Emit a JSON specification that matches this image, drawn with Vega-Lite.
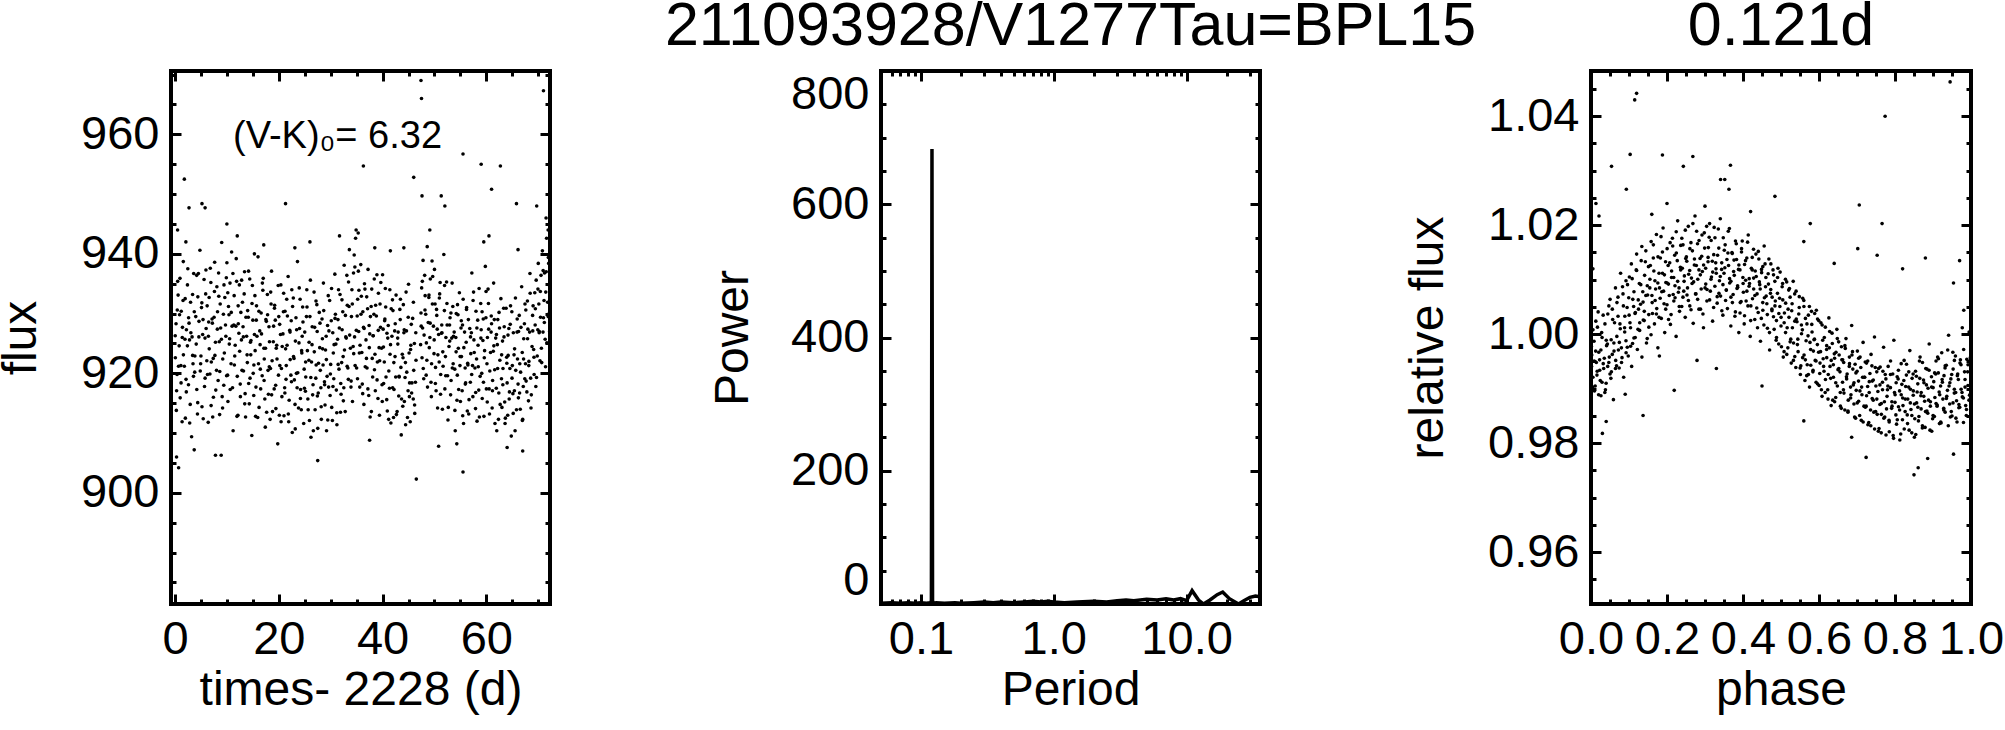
{
"$schema": "https://vega.github.io/schema/vega-lite/v6.json",
"background": "white",
"padding": {"left": -5, "top": -7, "right": 0, "bottom": 0},
"bounds": "flush",
"spacing": 331,
"config": {
  "font": "Liberation Sans",
  "view": {"stroke": "black", "strokeWidth": 4},
  "axis": {"domain": false, "grid": false, "tickColor": "black", "tickWidth": 3, "labelColor": "black", "labelFont": "Liberation Sans", "titleFont": "Liberation Sans", "titleFontSize": 48, "titleFontWeight": "normal", "titleColor": "black", "labelOverlap": false, "labelBound": false},
  "axisX": {"labelFlush": false},
  "title": {"font": "Liberation Sans", "fontSize": 61, "fontWeight": "normal", "color": "black"}
},
"datasets": {
"lc": [
{"t":0.2,"f":928.3},{"t":0.4,"f":919.8},{"t":0.6,"f":933.1},{"t":0.8,"f":924.6},{"t":1.0,"f":915.9},{"t":1.2,"f":930.4},{"t":1.4,"f":926.0},{"t":1.6,"f":938.7},{"t":1.8,"f":921.2},{"t":2.0,"f":912.5},{"t":2.2,"f":927.3},{"t":2.4,"f":934.8},{"t":2.6,"f":918.1},{"t":2.8,"f":925.6},{"t":3.0,"f":931.9},{"t":3.2,"f":909.4},{"t":3.4,"f":923.0},{"t":3.6,"f":936.7},{"t":3.8,"f":920.2},{"t":4.0,"f":929.5},
{"t":4.2,"f":917.3},{"t":4.4,"f":932.8},{"t":4.6,"f":926.1},{"t":4.8,"f":940.6},{"t":5.0,"f":922.9},{"t":5.2,"f":914.4},{"t":5.4,"f":929.0},{"t":5.6,"f":935.7},{"t":5.8,"f":919.2},{"t":6.0,"f":927.5},{"t":6.2,"f":931.3},{"t":6.4,"f":911.8},{"t":6.6,"f":924.1},{"t":6.8,"f":937.6},{"t":7.0,"f":921.9},{"t":7.2,"f":928.4},{"t":7.4,"f":916.0},{"t":7.6,"f":933.7},{"t":7.8,"f":925.2},{"t":8.0,"f":920.5},
{"t":8.2,"f":930.3},{"t":8.4,"f":936.8},{"t":8.6,"f":913.1},{"t":8.8,"f":927.6},{"t":9.0,"f":941.9},{"t":9.2,"f":922.4},{"t":9.4,"f":918.0},{"t":9.6,"f":932.7},{"t":9.8,"f":926.2},{"t":10.0,"f":938.5},{"t":10.2,"f":915.3},{"t":10.4,"f":929.8},{"t":10.6,"f":935.1},{"t":10.8,"f":921.6},{"t":11.0,"f":927.9},{"t":11.2,"f":910.4},{"t":11.4,"f":933.0},{"t":11.6,"f":924.7},{"t":11.8,"f":939.2},{"t":12.0,"f":919.5},
{"t":12.2,"f":928.3},{"t":12.4,"f":934.8},{"t":12.6,"f":916.1},{"t":12.8,"f":925.6},{"t":13.0,"f":931.9},{"t":13.2,"f":920.4},{"t":13.4,"f":937.0},{"t":13.6,"f":912.7},{"t":13.8,"f":926.2},{"t":14.0,"f":930.5},{"t":14.2,"f":918.3},{"t":14.4,"f":935.8},{"t":14.6,"f":923.1},{"t":14.8,"f":909.6},{"t":15.0,"f":928.9},{"t":15.2,"f":921.4},{"t":15.4,"f":933.0},{"t":15.6,"f":917.7},{"t":15.8,"f":926.2},{"t":16.0,"f":939.5},
{"t":16.2,"f":914.3},{"t":16.4,"f":924.8},{"t":16.6,"f":930.1},{"t":16.8,"f":919.6},{"t":17.0,"f":935.9},{"t":17.2,"f":922.4},{"t":17.4,"f":911.0},{"t":17.6,"f":928.7},{"t":17.8,"f":933.2},{"t":18.0,"f":916.5},{"t":18.2,"f":925.3},{"t":18.4,"f":920.8},{"t":18.6,"f":937.1},{"t":18.8,"f":913.6},{"t":19.0,"f":927.9},{"t":19.2,"f":931.4},{"t":19.4,"f":918.0},{"t":19.6,"f":924.7},{"t":19.8,"f":908.2},{"t":20.0,"f":929.5},
{"t":20.2,"f":921.3},{"t":20.4,"f":934.8},{"t":20.6,"f":916.1},{"t":20.8,"f":926.6},{"t":21.0,"f":912.9},{"t":21.2,"f":930.4},{"t":21.4,"f":919.0},{"t":21.6,"f":924.7},{"t":21.8,"f":936.2},{"t":22.0,"f":915.5},{"t":22.2,"f":922.3},{"t":22.4,"f":928.8},{"t":22.6,"f":910.1},{"t":22.8,"f":932.6},{"t":23.0,"f":918.9},{"t":23.2,"f":925.4},{"t":23.4,"f":920.0},{"t":23.6,"f":938.7},{"t":23.8,"f":914.2},{"t":24.0,"f":927.5},
{"t":24.2,"f":917.3},{"t":24.4,"f":923.8},{"t":24.6,"f":931.1},{"t":24.8,"f":911.6},{"t":25.0,"f":926.9},{"t":25.2,"f":919.4},{"t":25.4,"f":934.0},{"t":25.6,"f":915.7},{"t":25.8,"f":922.2},{"t":26.0,"f":929.5},{"t":26.2,"f":909.3},{"t":26.4,"f":924.8},{"t":26.6,"f":918.1},{"t":26.8,"f":933.6},{"t":27.0,"f":913.9},{"t":27.2,"f":921.4},{"t":27.4,"f":927.0},{"t":27.6,"f":916.7},{"t":27.8,"f":930.2},{"t":28.0,"f":920.5},
{"t":28.2,"f":912.3},{"t":28.4,"f":925.8},{"t":28.6,"f":935.1},{"t":28.8,"f":918.6},{"t":29.0,"f":923.9},{"t":29.2,"f":910.4},{"t":29.4,"f":928.0},{"t":29.6,"f":917.7},{"t":29.8,"f":932.2},{"t":30.0,"f":921.5},{"t":30.2,"f":914.3},{"t":30.4,"f":926.8},{"t":30.6,"f":919.1},{"t":30.8,"f":936.6},{"t":31.0,"f":924.9},{"t":31.2,"f":911.4},{"t":31.4,"f":929.0},{"t":31.6,"f":920.7},{"t":31.8,"f":933.2},{"t":32.0,"f":916.5},
{"t":32.2,"f":927.3},{"t":32.4,"f":922.8},{"t":32.6,"f":938.1},{"t":32.8,"f":913.6},{"t":33.0,"f":925.9},{"t":33.2,"f":931.4},{"t":33.4,"f":919.0},{"t":33.6,"f":940.7},{"t":33.8,"f":924.2},{"t":34.0,"f":929.5},{"t":34.2,"f":915.3},{"t":34.4,"f":936.8},{"t":34.6,"f":926.1},{"t":34.8,"f":942.6},{"t":35.0,"f":920.9},{"t":35.2,"f":932.4},{"t":35.4,"f":927.0},{"t":35.6,"f":917.7},{"t":35.8,"f":938.2},{"t":36.0,"f":923.5},
{"t":36.2,"f":930.3},{"t":36.4,"f":914.8},{"t":36.6,"f":934.1},{"t":36.8,"f":925.6},{"t":37.0,"f":920.9},{"t":37.2,"f":937.4},{"t":37.4,"f":928.0},{"t":37.6,"f":912.7},{"t":37.8,"f":931.2},{"t":38.0,"f":922.5},{"t":38.2,"f":926.3},{"t":38.4,"f":935.8},{"t":38.6,"f":917.1},{"t":38.8,"f":929.6},{"t":39.0,"f":921.9},{"t":39.2,"f":933.4},{"t":39.4,"f":913.0},{"t":39.6,"f":927.7},{"t":39.8,"f":924.2},{"t":40.0,"f":936.5},
{"t":40.2,"f":918.3},{"t":40.4,"f":928.8},{"t":40.6,"f":931.1},{"t":40.8,"f":915.6},{"t":41.0,"f":925.9},{"t":41.2,"f":920.4},{"t":41.4,"f":934.0},{"t":41.6,"f":911.7},{"t":41.8,"f":926.2},{"t":42.0,"f":930.5},{"t":42.2,"f":917.3},{"t":42.4,"f":922.8},{"t":42.6,"f":933.1},{"t":42.8,"f":913.6},{"t":43.0,"f":926.9},{"t":43.2,"f":919.4},{"t":43.4,"f":929.0},{"t":43.6,"f":909.7},{"t":43.8,"f":923.2},{"t":44.0,"f":931.5},
{"t":44.2,"f":915.3},{"t":44.4,"f":921.8},{"t":44.6,"f":927.1},{"t":44.8,"f":912.6},{"t":45.0,"f":934.9},{"t":45.2,"f":918.4},{"t":45.4,"f":924.0},{"t":45.6,"f":916.7},{"t":45.8,"f":929.2},{"t":46.0,"f":920.5},{"t":46.2,"f":913.3},{"t":46.4,"f":926.8},
{"t":47.4,"f":930.1},{"t":47.6,"f":922.6},{"t":47.8,"f":938.9},{"t":48.0,"f":926.4},{"t":48.2,"f":933.0},{"t":48.4,"f":919.7},{"t":48.6,"f":941.2},{"t":48.8,"f":928.5},{"t":49.0,"f":924.3},{"t":49.2,"f":935.8},{"t":49.4,"f":916.1},{"t":49.6,"f":931.6},{"t":49.8,"f":927.9},{"t":50.0,"f":937.4},{"t":50.2,"f":921.0},{"t":50.4,"f":930.7},{"t":50.6,"f":914.2},{"t":50.8,"f":926.5},{"t":51.0,"f":933.3},{"t":51.2,"f":919.8},
{"t":51.4,"f":928.1},{"t":51.6,"f":923.6},{"t":51.8,"f":939.9},{"t":52.0,"f":917.4},{"t":52.2,"f":926.0},{"t":52.4,"f":931.7},{"t":52.6,"f":912.2},{"t":52.8,"f":924.5},{"t":53.0,"f":929.3},{"t":53.2,"f":918.8},{"t":53.4,"f":935.1},{"t":53.6,"f":921.6},{"t":53.8,"f":926.9},{"t":54.0,"f":910.4},{"t":54.2,"f":930.0},{"t":54.4,"f":919.7},{"t":54.6,"f":924.2},{"t":54.8,"f":933.5},{"t":55.0,"f":915.3},{"t":55.2,"f":922.8},
{"t":55.4,"f":928.1},{"t":55.6,"f":911.6},{"t":55.8,"f":926.9},{"t":56.0,"f":918.4},{"t":56.2,"f":931.0},{"t":56.4,"f":921.7},{"t":56.6,"f":913.2},{"t":56.8,"f":927.5},{"t":57.0,"f":923.3},{"t":57.2,"f":936.8},{"t":57.4,"f":916.1},{"t":57.6,"f":925.6},{"t":57.8,"f":920.9},{"t":58.0,"f":930.4},{"t":58.2,"f":912.0},{"t":58.4,"f":924.7},{"t":58.6,"f":934.2},{"t":58.8,"f":919.5},{"t":59.0,"f":927.3},{"t":59.2,"f":915.8},
{"t":59.4,"f":929.1},{"t":59.6,"f":922.6},{"t":59.8,"f":937.9},{"t":60.0,"f":917.4},{"t":60.2,"f":926.0},{"t":60.4,"f":931.7},{"t":60.6,"f":913.2},{"t":60.8,"f":923.5},{"t":61.0,"f":928.3},{"t":61.2,"f":918.8},{"t":61.4,"f":935.1},{"t":61.6,"f":920.6},{"t":61.8,"f":925.9},{"t":62.0,"f":910.4},{"t":62.2,"f":929.0},{"t":62.4,"f":916.7},{"t":62.6,"f":922.2},{"t":62.8,"f":932.5},{"t":63.0,"f":914.3},{"t":63.2,"f":920.8},
{"t":63.4,"f":926.1},{"t":63.6,"f":911.6},{"t":63.8,"f":930.9},{"t":64.0,"f":918.4},{"t":64.2,"f":923.0},{"t":64.4,"f":915.7},{"t":64.6,"f":928.2},{"t":64.8,"f":909.5},{"t":65.0,"f":921.3},{"t":65.2,"f":926.8},{"t":65.4,"f":917.1},{"t":65.6,"f":932.6},{"t":65.8,"f":913.9},{"t":66.0,"f":922.4},{"t":66.2,"f":927.0},{"t":66.4,"f":916.7},{"t":66.6,"f":920.2},{"t":66.8,"f":934.5},{"t":67.0,"f":912.3},{"t":67.2,"f":925.8},
{"t":67.4,"f":919.1},{"t":67.6,"f":930.6},{"t":67.8,"f":916.9},{"t":68.0,"f":927.4},{"t":68.2,"f":922.0},{"t":68.4,"f":936.7},{"t":68.6,"f":914.2},{"t":68.8,"f":924.5},{"t":69.0,"f":931.3},{"t":69.2,"f":919.8},{"t":69.4,"f":928.1},{"t":69.6,"f":935.6},{"t":69.8,"f":922.9},{"t":70.0,"f":938.4},{"t":70.2,"f":927.0},{"t":70.4,"f":933.7},{"t":70.6,"f":924.2},{"t":70.8,"f":940.5},{"t":71.0,"f":929.3},{"t":71.2,"f":936.8},
{"t":71.4,"f":921.1},{"t":71.6,"f":942.6},{"t":71.8,"f":931.9},{"t":72.0,"f":938.4},{"t":72.2,"f":927.0},
{"t":1.8,"f":952.5},{"t":2.7,"f":947.7},{"t":5.8,"f":947.7},{"t":5.2,"f":948.4},{"t":21.3,"f":948.4},{"t":36.3,"f":954.7},{"t":47.4,"f":969},{"t":47.5,"f":966},{"t":71,"f":967.3},{"t":55.5,"f":956.7},{"t":59,"f":955},{"t":62.7,"f":954.7},{"t":61,"f":950.8},{"t":46,"f":952.8},{"t":47.6,"f":949.7},{"t":51.3,"f":949.7},{"t":52,"f":948},{"t":65.8,"f":948.4},{"t":69.7,"f":948},
{"t":0.7,"f":904.2},{"t":0.3,"f":906},{"t":7.8,"f":906.3},{"t":8.9,"f":906.3},{"t":3.7,"f":907.2},{"t":27.5,"f":905.4},{"t":46.5,"f":902.3},{"t":55.5,"f":903.5},{"t":37.5,"f":908.8},{"t":50.8,"f":907.8},{"t":54.3,"f":908.2},{"t":64,"f":907.6},{"t":67,"f":907},
{"t":10,"f":945},{"t":12,"f":943},{"t":34.9,"f":944},{"t":35.3,"f":943.5},{"t":26,"f":942},{"t":0.5,"f":944},{"t":71.5,"f":946},{"t":71.9,"f":944},{"t":49.1,"f":944},{"t":31.7,"f":943},{"t":41.5,"f":940.5},{"t":38.5,"f":941},{"t":60.5,"f":943},{"t":2.1,"f":942},{"t":15.3,"f":940},{"t":23.1,"f":941},{"t":17.1,"f":941.5},{"t":44.1,"f":941},{"t":66.1,"f":940.7},{"t":59.5,"f":942},
{"t":0.07,"f":922.6},{"t":0.31,"f":917.1},{"t":0.52,"f":935.4},{"t":0.88,"f":929.8},{"t":1.13,"f":921.3},{"t":1.37,"f":911.9},{"t":1.55,"f":932.2},{"t":1.92,"f":925.7},{"t":2.13,"f":919.0},{"t":2.47,"f":937.5},{"t":2.71,"f":928.4},{"t":2.93,"f":914.8},{"t":3.29,"f":926.1},{"t":3.47,"f":921.6},{"t":3.72,"f":930.3},{"t":4.09,"f":924.9},{"t":4.33,"f":913.2},{"t":4.51,"f":936.7},{"t":4.87,"f":920.4},{"t":5.11,"f":931.0},
{"t":5.33,"f":926.5},{"t":5.69,"f":917.8},{"t":5.91,"f":933.3},{"t":6.13,"f":922.1},{"t":6.49,"f":928.6},{"t":6.73,"f":919.9},{"t":6.91,"f":935.2},{"t":7.27,"f":912.7},{"t":7.53,"f":929.4},{"t":7.69,"f":923.0},{"t":8.07,"f":934.5},{"t":8.31,"f":918.8},{"t":8.53,"f":925.3},{"t":8.71,"f":931.6},{"t":9.09,"f":916.1},{"t":9.33,"f":929.9},{"t":9.51,"f":923.4},{"t":9.89,"f":936.0},{"t":10.13,"f":919.7},{"t":10.31,"f":931.2},
{"t":10.53,"f":925.8},{"t":10.91,"f":940.3},{"t":11.09,"f":917.6},{"t":11.33,"f":928.1},{"t":11.51,"f":922.9},{"t":11.87,"f":935.4},{"t":12.13,"f":913.0},{"t":12.31,"f":926.7},{"t":12.69,"f":930.2},{"t":12.91,"f":920.5},{"t":13.11,"f":927.8},{"t":13.33,"f":933.3},{"t":13.51,"f":916.6},{"t":13.89,"f":923.1},{"t":14.13,"f":929.4},{"t":14.31,"f":914.9},{"t":14.53,"f":925.2},{"t":14.91,"f":934.7},{"t":15.07,"f":920.0},{"t":15.31,"f":926.5},
{"t":15.53,"f":912.8},{"t":15.71,"f":931.3},{"t":16.09,"f":921.6},{"t":16.33,"f":927.1},{"t":16.51,"f":917.4},{"t":16.93,"f":933.9},{"t":17.13,"f":924.2},{"t":17.31,"f":915.7},{"t":17.51,"f":929.0},{"t":17.93,"f":920.5},{"t":18.11,"f":927.8},{"t":18.33,"f":912.3},{"t":18.51,"f":931.6},{"t":18.71,"f":922.1},{"t":19.11,"f":917.4},{"t":19.33,"f":928.9},{"t":19.51,"f":924.2},{"t":19.89,"f":934.7},{"t":20.11,"f":913.0},{"t":20.33,"f":926.5},
{"t":20.51,"f":920.8},{"t":20.89,"f":930.3},{"t":21.13,"f":917.6},{"t":21.31,"f":924.1},{"t":21.53,"f":932.4},{"t":21.91,"f":911.9},{"t":22.11,"f":927.2},{"t":22.33,"f":919.7},{"t":22.51,"f":934.0},{"t":22.93,"f":922.5},{"t":23.13,"f":914.8},{"t":23.31,"f":929.3},{"t":23.53,"f":917.6},{"t":23.89,"f":925.1},{"t":24.11,"f":932.4},{"t":24.33,"f":913.9},{"t":24.51,"f":926.2},{"t":24.89,"f":920.7},{"t":25.13,"f":917.0},{"t":25.33,"f":929.5},
{"t":25.51,"f":923.8},{"t":25.91,"f":912.1},{"t":26.09,"f":935.6},{"t":26.31,"f":921.9},{"t":26.53,"f":916.4},{"t":26.91,"f":927.7},{"t":27.13,"f":919.2},{"t":27.33,"f":931.5},{"t":27.51,"f":910.8},{"t":27.89,"f":924.3},{"t":28.11,"f":917.6},{"t":28.33,"f":929.1},{"t":28.53,"f":921.4},{"t":28.91,"f":914.7},{"t":29.13,"f":926.2},{"t":29.31,"f":919.5},{"t":29.53,"f":933.0},{"t":29.89,"f":916.3},{"t":30.11,"f":928.8},{"t":30.33,"f":912.1},
{"t":30.51,"f":923.4},{"t":30.91,"f":929.9},{"t":31.09,"f":917.2},{"t":31.33,"f":925.7},{"t":31.51,"f":934.0},{"t":31.89,"f":913.5},{"t":32.11,"f":921.8},{"t":32.33,"f":930.3},{"t":32.53,"f":917.6},{"t":32.91,"f":926.1},{"t":33.11,"f":936.4},{"t":33.31,"f":920.9},{"t":33.53,"f":931.2},{"t":33.91,"f":917.7},{"t":34.09,"f":934.0},{"t":34.33,"f":924.5},{"t":34.53,"f":939.8},{"t":34.71,"f":921.3},{"t":35.11,"f":929.6},{"t":35.33,"f":937.1},
{"t":35.53,"f":923.4},{"t":35.91,"f":932.9},{"t":36.09,"f":918.2},{"t":36.33,"f":927.7},{"t":36.51,"f":935.0},{"t":36.89,"f":922.5},{"t":37.11,"f":930.8},{"t":37.33,"f":916.3},{"t":37.53,"f":926.6},{"t":37.91,"f":934.1},{"t":38.09,"f":919.4},{"t":38.33,"f":929.9},{"t":38.53,"f":923.2},{"t":38.91,"f":936.5},{"t":39.11,"f":915.8},{"t":39.33,"f":924.3},{"t":39.51,"f":931.6},{"t":39.89,"f":918.1},{"t":40.11,"f":927.4},{"t":40.33,"f":921.9},
{"t":40.53,"f":934.2},{"t":40.91,"f":913.7},{"t":41.09,"f":928.0},{"t":41.33,"f":917.5},{"t":41.53,"f":924.8},{"t":41.91,"f":932.3},{"t":42.11,"f":912.6},{"t":42.33,"f":927.1},{"t":42.53,"f":919.4},{"t":42.91,"f":925.9},{"t":43.11,"f":916.2},{"t":43.33,"f":930.7},{"t":43.53,"f":921.0},{"t":43.89,"f":914.5},{"t":44.11,"f":926.8},{"t":44.33,"f":919.3},{"t":44.53,"f":933.6},{"t":44.91,"f":917.1},{"t":45.11,"f":923.4},{"t":45.33,"f":911.9},
{"t":45.53,"f":928.2},{"t":45.91,"f":915.7},{"t":46.13,"f":925.0},{"t":46.33,"f":918.5},{"t":47.33,"f":924.8},{"t":47.53,"f":934.3},{"t":47.71,"f":927.6},{"t":47.93,"f":919.1},{"t":48.11,"f":936.4},{"t":48.31,"f":929.9},{"t":48.53,"f":922.2},{"t":48.91,"f":932.7},{"t":49.11,"f":926.0},{"t":49.33,"f":918.5},{"t":49.53,"f":938.8},{"t":49.91,"f":923.3},{"t":50.11,"f":931.6},{"t":50.31,"f":917.1},{"t":50.53,"f":927.4},{"t":50.91,"f":921.9},
{"t":51.09,"f":935.2},{"t":51.33,"f":926.7},{"t":51.53,"f":914.0},{"t":51.91,"f":930.5},{"t":52.11,"f":922.8},{"t":52.33,"f":935.3},{"t":52.53,"f":919.6},{"t":52.91,"f":928.1},{"t":53.11,"f":916.4},{"t":53.33,"f":925.9},{"t":53.53,"f":931.2},{"t":53.91,"f":920.7},{"t":54.11,"f":926.0},{"t":54.33,"f":915.5},{"t":54.53,"f":929.8},{"t":54.91,"f":921.3},{"t":55.11,"f":927.6},{"t":55.33,"f":917.1},{"t":55.53,"f":932.4},{"t":55.91,"f":920.9},
{"t":56.11,"f":925.2},{"t":56.33,"f":913.7},{"t":56.53,"f":929.0},{"t":56.91,"f":918.5},{"t":57.11,"f":926.8},{"t":57.33,"f":921.3},{"t":57.53,"f":933.6},{"t":57.91,"f":914.1},{"t":58.11,"f":922.4},{"t":58.33,"f":928.9},{"t":58.53,"f":917.2},{"t":58.91,"f":931.7},{"t":59.11,"f":920.0},{"t":59.33,"f":925.5},{"t":59.53,"f":912.8},{"t":59.91,"f":929.3},{"t":60.11,"f":921.6},{"t":60.33,"f":934.1},{"t":60.53,"f":917.4},{"t":60.91,"f":926.9},
{"t":61.11,"f":914.2},{"t":61.33,"f":923.7},{"t":61.53,"f":929.0},{"t":61.91,"f":917.5},{"t":62.11,"f":924.8},{"t":62.33,"f":912.3},{"t":62.53,"f":927.6},{"t":62.91,"f":919.1},{"t":63.11,"f":925.4},{"t":63.33,"f":930.9},{"t":63.53,"f":915.2},{"t":63.91,"f":922.7},{"t":64.11,"f":913.0},{"t":64.33,"f":927.5},{"t":64.53,"f":920.8},{"t":64.91,"f":930.3},{"t":65.11,"f":916.6},{"t":65.33,"f":923.1},{"t":65.53,"f":910.4},{"t":65.91,"f":926.9},
{"t":66.11,"f":918.2},{"t":66.33,"f":929.7},{"t":66.53,"f":914.0},{"t":66.91,"f":923.5},{"t":67.11,"f":917.8},{"t":67.33,"f":928.3},{"t":67.53,"f":921.6},{"t":67.91,"f":932.1},{"t":68.11,"f":915.4},{"t":68.33,"f":926.9},{"t":68.53,"f":919.2},{"t":68.91,"f":929.7},{"t":69.11,"f":924.0},{"t":69.33,"f":933.5},{"t":69.53,"f":917.8},{"t":69.91,"f":927.3},{"t":70.11,"f":931.6},{"t":70.33,"f":922.1},{"t":70.53,"f":936.4},{"t":70.91,"f":926.9},
{"t":71.11,"f":932.2},{"t":71.33,"f":925.7},{"t":71.53,"f":937.0},{"t":71.91,"f":929.5},{"t":72.11,"f":934.8},
{"t":0.04,"f":926.3},{"t":0.26,"f":913.8},{"t":0.44,"f":930.6},{"t":0.68,"f":921.2},{"t":0.96,"f":935.9},{"t":1.17,"f":918.4},{"t":1.44,"f":927.7},{"t":1.62,"f":923.1},{"t":1.96,"f":932.5},{"t":2.18,"f":916.9},{"t":2.39,"f":924.6},{"t":2.62,"f":929.3},{"t":2.83,"f":911.7},{"t":3.06,"f":926.8},{"t":3.39,"f":933.2},{"t":3.56,"f":919.5},{"t":3.83,"f":922.9},{"t":4.17,"f":936.4},{"t":4.38,"f":915.1},{"t":4.62,"f":928.7},
{"t":4.94,"f":921.6},{"t":5.17,"f":931.8},{"t":5.44,"f":912.4},{"t":5.78,"f":925.9},{"t":5.96,"f":937.3},{"t":6.26,"f":919.8},{"t":6.44,"f":926.2},{"t":6.58,"f":932.7},{"t":6.96,"f":914.6},{"t":7.14,"f":929.1},{"t":7.37,"f":922.5},{"t":7.64,"f":938.6},{"t":7.86,"f":917.2},{"t":8.16,"f":927.4},{"t":8.44,"f":932.9},{"t":8.63,"f":920.3},{"t":8.94,"f":925.7},{"t":9.17,"f":914.2},{"t":9.44,"f":934.8},{"t":9.73,"f":928.1},
{"t":9.94,"f":919.6},{"t":10.17,"f":933.5},{"t":10.46,"f":924.9},{"t":10.64,"f":917.3},{"t":10.84,"f":930.2},{"t":11.16,"f":936.7},{"t":11.44,"f":921.4},{"t":11.73,"f":927.9},{"t":11.94,"f":912.8},{"t":12.17,"f":931.3},{"t":12.46,"f":923.7},{"t":12.57,"f":918.2},{"t":12.84,"f":935.6},{"t":13.17,"f":926.1},{"t":13.44,"f":914.9},{"t":13.67,"f":929.4},{"t":13.94,"f":921.8},{"t":14.17,"f":937.1},{"t":14.46,"f":919.2},{"t":14.64,"f":925.5},
{"t":14.84,"f":931.7},{"t":15.17,"f":916.3},{"t":15.44,"f":923.8},{"t":15.66,"f":928.9},{"t":15.94,"f":912.6},{"t":16.17,"f":930.4},{"t":16.44,"f":920.7},{"t":16.67,"f":926.6},{"t":16.84,"f":935.1},{"t":17.17,"f":918.8},{"t":17.44,"f":924.2},{"t":17.66,"f":913.5},{"t":17.84,"f":929.8},{"t":18.17,"f":921.1},{"t":18.44,"f":933.6},{"t":18.62,"f":916.4},{"t":18.94,"f":925.3},{"t":19.17,"f":930.9},{"t":19.44,"f":914.1},{"t":19.66,"f":922.4},
{"t":19.94,"f":919.7},{"t":20.17,"f":928.2},{"t":20.44,"f":911.9},{"t":20.66,"f":924.5},{"t":20.94,"f":933.4},{"t":21.17,"f":916.7},{"t":21.44,"f":921.3},{"t":21.66,"f":929.6},{"t":21.84,"f":913.2},{"t":22.17,"f":926.9},{"t":22.44,"f":918.6},{"t":22.66,"f":931.2},{"t":22.84,"f":922.8},{"t":23.17,"f":910.7},{"t":23.44,"f":927.3},{"t":23.66,"f":920.1},{"t":23.94,"f":934.3},{"t":24.17,"f":915.8},{"t":24.44,"f":923.4},{"t":24.66,"f":928.6},
{"t":24.94,"f":917.5},{"t":25.17,"f":921.9},{"t":25.44,"f":931.1},{"t":25.66,"f":913.9},{"t":25.84,"f":925.2},{"t":26.17,"f":919.3},{"t":26.44,"f":927.8},{"t":26.66,"f":910.4},{"t":26.84,"f":923.6},{"t":27.17,"f":932.1},{"t":27.44,"f":916.2},{"t":27.66,"f":921.7},{"t":27.94,"f":928.4},{"t":28.17,"f":914.4},{"t":28.44,"f":924.1},{"t":28.66,"f":930.5},{"t":28.84,"f":918.1},{"t":29.17,"f":922.3},{"t":29.44,"f":912.2},{"t":29.66,"f":927.1},
{"t":29.94,"f":919.9},{"t":30.17,"f":934.2},{"t":30.44,"f":917.8},{"t":30.66,"f":924.8},{"t":30.84,"f":929.2},{"t":31.17,"f":913.4},{"t":31.44,"f":921.5},{"t":31.66,"f":927.6},{"t":31.94,"f":918.3},{"t":32.17,"f":932.3},{"t":32.44,"f":915.4},{"t":32.66,"f":923.9},{"t":32.84,"f":929.7},{"t":33.17,"f":921.2},{"t":33.44,"f":935.3},{"t":33.66,"f":926.4},{"t":33.94,"f":918.7},{"t":34.17,"f":931.6},{"t":34.44,"f":923.3},{"t":34.66,"f":937.8},
{"t":34.94,"f":927.2},{"t":35.17,"f":919.1},{"t":35.44,"f":933.9},{"t":35.66,"f":924.7},{"t":35.84,"f":929.9},{"t":36.17,"f":916.6},{"t":36.44,"f":927.5},{"t":36.66,"f":921.1},{"t":36.94,"f":932.8},{"t":37.17,"f":917.4},{"t":37.44,"f":924.3},{"t":37.66,"f":929.5},{"t":37.84,"f":913.6},{"t":38.17,"f":926.3},{"t":38.44,"f":920.6},{"t":38.66,"f":931.4},{"t":38.94,"f":918.9},{"t":39.17,"f":927.2},{"t":39.44,"f":922.1},{"t":39.66,"f":935.2},
{"t":39.94,"f":915.3},{"t":40.17,"f":924.4},{"t":40.44,"f":929.1},{"t":40.66,"f":919.4},{"t":40.84,"f":926.7},{"t":41.17,"f":912.3},{"t":41.44,"f":923.2},{"t":41.66,"f":930.8},{"t":41.94,"f":917.6},{"t":42.17,"f":921.8},{"t":42.44,"f":928.3},{"t":42.66,"f":913.1},{"t":42.94,"f":924.9},{"t":43.17,"f":919.5},{"t":43.44,"f":932.4},{"t":43.66,"f":915.7},{"t":43.94,"f":922.6},{"t":44.17,"f":927.3},{"t":44.44,"f":911.4},{"t":44.66,"f":920.2},
{"t":44.94,"f":929.4},{"t":45.17,"f":916.1},{"t":45.44,"f":924.7},{"t":45.66,"f":918.4},{"t":45.94,"f":931.9},{"t":46.17,"f":914.7},{"t":46.44,"f":922.2},{"t":47.44,"f":927.9},{"t":47.66,"f":935.4},{"t":47.84,"f":920.8},{"t":48.17,"f":930.6},{"t":48.44,"f":925.1},{"t":48.66,"f":917.7},{"t":48.94,"f":933.1},{"t":49.17,"f":928.4},{"t":49.44,"f":921.6},{"t":49.66,"f":936.2},{"t":49.94,"f":925.6},{"t":50.17,"f":918.3},{"t":50.44,"f":929.7},
{"t":50.66,"f":923.1},{"t":50.94,"f":932.6},{"t":51.17,"f":916.5},{"t":51.44,"f":926.8},{"t":51.66,"f":921.2},{"t":51.94,"f":934.7},{"t":52.17,"f":919.6},{"t":52.44,"f":928.1},{"t":52.66,"f":914.3},{"t":52.94,"f":925.4},{"t":53.17,"f":930.1},{"t":53.44,"f":920.9},{"t":53.66,"f":926.2},{"t":53.94,"f":913.8},{"t":54.17,"f":923.6},{"t":54.44,"f":931.5},{"t":54.66,"f":917.3},{"t":54.94,"f":922.8},{"t":55.17,"f":928.8},{"t":55.44,"f":912.9},
{"t":55.66,"f":924.3},{"t":55.94,"f":918.2},{"t":56.17,"f":930.7},{"t":56.44,"f":921.4},{"t":56.66,"f":915.6},{"t":56.94,"f":926.1},{"t":57.17,"f":919.8},{"t":57.44,"f":932.2},{"t":57.66,"f":923.5},{"t":57.94,"f":916.8},{"t":58.17,"f":927.6},{"t":58.44,"f":921.1},{"t":58.66,"f":912.7},{"t":58.94,"f":925.9},{"t":59.17,"f":930.3},{"t":59.44,"f":918.5},{"t":59.66,"f":923.8},{"t":59.94,"f":933.7},{"t":60.17,"f":915.2},{"t":60.44,"f":927.4},
{"t":60.66,"f":920.4},{"t":60.94,"f":929.6},{"t":61.17,"f":917.1},{"t":61.44,"f":924.6},{"t":61.66,"f":911.6},{"t":61.94,"f":926.5},{"t":62.17,"f":920.8},{"t":62.44,"f":930.2},{"t":62.66,"f":914.8},{"t":62.94,"f":923.1},{"t":63.17,"f":918.1},{"t":63.44,"f":927.8},{"t":63.66,"f":912.5},{"t":63.94,"f":921.7},{"t":64.17,"f":926.4},{"t":64.44,"f":916.9},{"t":64.66,"f":931.3},{"t":64.94,"f":919.2},{"t":65.17,"f":913.3},{"t":65.44,"f":924.1},
{"t":65.66,"f":920.5},{"t":65.94,"f":929.1},{"t":66.17,"f":915.9},{"t":66.44,"f":921.6},{"t":66.66,"f":927.7},{"t":66.94,"f":912.1},{"t":67.17,"f":922.4},{"t":67.44,"f":931.6},{"t":67.66,"f":918.7},{"t":67.94,"f":925.8},{"t":68.17,"f":921.3},{"t":68.44,"f":933.4},{"t":68.66,"f":916.4},{"t":68.94,"f":927.1},{"t":69.17,"f":922.7},{"t":69.44,"f":930.8},{"t":69.66,"f":919.3},{"t":69.94,"f":934.1},{"t":70.17,"f":926.8},{"t":70.44,"f":929.4},
{"t":70.66,"f":921.8},{"t":70.94,"f":937.2},{"t":71.17,"f":928.5},{"t":71.44,"f":933.6},{"t":71.66,"f":925.1},{"t":71.94,"f":939.4},{"t":72.17,"f":930.2}
],
"pg": [
{"P":0.05,"w":1},{"P":0.06,"w":2},{"P":0.07,"w":1},{"P":0.08,"w":2},{"P":0.09,"w":1},{"P":0.1,"w":2},{"P":0.11,"w":1},{"P":0.118,"w":2},{"P":0.1198,"w":5},{"P":0.121,"w":683},{"P":0.1222,"w":5},{"P":0.124,"w":1},{"P":0.13,"w":2},{"P":0.15,"w":1},{"P":0.18,"w":2},{"P":0.2,"w":1},{"P":0.25,"w":2},{"P":0.3,"w":3},{"P":0.35,"w":2},{"P":0.4,"w":3},{"P":0.5,"w":2},{"P":0.6,"w":3},{"P":0.7,"w":4},{"P":0.8,"w":3},{"P":0.9,"w":4},{"P":1.0,"w":3},{"P":1.2,"w":2},{"P":1.5,"w":3},{"P":2.0,"w":4},{"P":2.5,"w":3},{"P":3.0,"w":5},{"P":3.5,"w":6},{"P":4.0,"w":5},{"P":5.0,"w":7},{"P":6.0,"w":6},{"P":7.0,"w":8},{"P":8.0,"w":6},{"P":9.0,"w":8},{"P":10,"w":5},{"P":11,"w":20},{"P":12.3,"w":6},{"P":13.4,"w":0},{"P":15,"w":6},{"P":17,"w":14},{"P":18.7,"w":18},{"P":21,"w":8},{"P":24.6,"w":0},{"P":27,"w":5},{"P":30,"w":10},{"P":33,"w":12},{"P":35.7,"w":11}
],
"ph": [
{"p":0.002,"r":0.9962},{"p":0.005,"r":0.9921},{"p":0.008,"r":0.9987},{"p":0.011,"r":0.9905},{"p":0.014,"r":0.9948},{"p":0.017,"r":1.0013},{"p":0.020,"r":0.9889},{"p":0.023,"r":0.9934},{"p":0.026,"r":0.9971},{"p":0.029,"r":0.9912},{"p":0.032,"r":1.0035},{"p":0.035,"r":0.9956},{"p":0.038,"r":0.9898},{"p":0.041,"r":0.9979},{"p":0.044,"r":0.9941},{"p":0.047,"r":1.0052},{"p":0.050,"r":0.9927},{"p":0.053,"r":0.9990},{"p":0.056,"r":0.9963},{"p":0.059,"r":0.9880},
{"p":0.062,"r":1.0021},{"p":0.065,"r":0.9952},{"p":0.068,"r":0.9996},{"p":0.071,"r":1.0068},{"p":0.074,"r":0.9938},{"p":0.077,"r":1.0010},{"p":0.080,"r":0.9975},{"p":0.083,"r":1.0087},{"p":0.086,"r":0.9921},{"p":0.089,"r":1.0033},{"p":0.092,"r":0.9988},{"p":0.095,"r":1.0049},{"p":0.098,"r":0.9960},{"p":0.101,"r":1.0105},{"p":0.104,"r":1.0012},{"p":0.107,"r":0.9941},{"p":0.110,"r":1.0064},{"p":0.113,"r":0.9993},{"p":0.116,"r":1.0038},{"p":0.119,"r":1.0118},
{"p":0.122,"r":0.9972},{"p":0.125,"r":1.0046},{"p":0.128,"r":1.0007},{"p":0.131,"r":1.0091},{"p":0.134,"r":0.9958},{"p":0.137,"r":1.0059},{"p":0.140,"r":1.0025},{"p":0.143,"r":1.0133},{"p":0.146,"r":0.9984},{"p":0.149,"r":1.0072},{"p":0.152,"r":1.0036},{"p":0.155,"r":1.0101},{"p":0.158,"r":0.9999},{"p":0.161,"r":1.0058},{"p":0.164,"r":1.0140},{"p":0.167,"r":1.0019},{"p":0.170,"r":1.0083},{"p":0.173,"r":1.0047},{"p":0.176,"r":0.9975},{"p":0.179,"r":1.0112},
{"p":0.182,"r":1.0066},{"p":0.185,"r":1.0029},{"p":0.188,"r":1.0151},{"p":0.191,"r":1.0079},{"p":0.194,"r":1.0003},{"p":0.197,"r":1.0095},{"p":0.200,"r":1.0054},{"p":0.203,"r":1.0126},{"p":0.206,"r":1.0071},{"p":0.209,"r":1.0018},{"p":0.212,"r":1.0104},{"p":0.215,"r":1.0162},{"p":0.218,"r":1.0061},{"p":0.221,"r":1.0089},{"p":0.224,"r":0.9996},{"p":0.227,"r":1.0135},{"p":0.230,"r":1.0077},{"p":0.233,"r":1.0042},{"p":0.236,"r":1.0118},{"p":0.239,"r":1.0176},
{"p":0.242,"r":1.0068},{"p":0.245,"r":1.0097},{"p":0.248,"r":1.0031},{"p":0.251,"r":1.0142},{"p":0.254,"r":1.0085},{"p":0.257,"r":1.0110},{"p":0.260,"r":1.0052},{"p":0.263,"r":1.0168},{"p":0.266,"r":1.0093},{"p":0.269,"r":1.0020},{"p":0.272,"r":1.0127},{"p":0.275,"r":1.0074},{"p":0.278,"r":1.0189},{"p":0.281,"r":1.0101},{"p":0.284,"r":1.0046},{"p":0.287,"r":1.0139},{"p":0.290,"r":1.0083},{"p":0.293,"r":1.0115},{"p":0.296,"r":1.0012},{"p":0.299,"r":1.0158},
{"p":0.302,"r":1.0092},{"p":0.305,"r":1.0061},{"p":0.308,"r":1.0133},{"p":0.311,"r":1.0178},{"p":0.314,"r":1.0079},{"p":0.317,"r":1.0105},{"p":0.320,"r":1.0024},{"p":0.323,"r":1.0146},{"p":0.326,"r":1.0088},{"p":0.329,"r":1.0120},{"p":0.332,"r":1.0057},{"p":0.335,"r":1.0193},{"p":0.338,"r":1.0098},{"p":0.341,"r":1.0070},{"p":0.344,"r":1.0131},{"p":0.347,"r":1.0035},{"p":0.350,"r":1.0112},{"p":0.353,"r":1.0164},{"p":0.356,"r":1.0081},{"p":0.359,"r":1.0047},
{"p":0.362,"r":1.0126},{"p":0.365,"r":1.0094},{"p":0.368,"r":1.0015},{"p":0.371,"r":1.0150},{"p":0.374,"r":1.0073},{"p":0.377,"r":1.0108},{"p":0.380,"r":1.0041},{"p":0.383,"r":1.0137},{"p":0.386,"r":1.0086},{"p":0.389,"r":1.0003},{"p":0.392,"r":1.0118},{"p":0.395,"r":1.0060},{"p":0.398,"r":1.0171},{"p":0.401,"r":1.0077},{"p":0.404,"r":1.0034},{"p":0.407,"r":1.0099},{"p":0.410,"r":1.0140},{"p":0.413,"r":1.0052},{"p":0.416,"r":1.0088},{"p":0.419,"r":0.9996},
{"p":0.422,"r":1.0121},{"p":0.425,"r":1.0065},{"p":0.428,"r":1.0103},{"p":0.431,"r":1.0027},{"p":0.434,"r":1.0147},{"p":0.437,"r":1.0074},{"p":0.440,"r":1.0040},{"p":0.443,"r":1.0096},{"p":0.446,"r":0.9987},{"p":0.449,"r":1.0113},{"p":0.452,"r":1.0058},{"p":0.455,"r":1.0017},{"p":0.458,"r":1.0129},{"p":0.461,"r":1.0070},{"p":0.464,"r":1.0036},{"p":0.467,"r":1.0092},{"p":0.470,"r":0.9971},{"p":0.473,"r":1.0082},{"p":0.476,"r":1.0046},{"p":0.479,"r":1.0118},
{"p":0.482,"r":1.0009},{"p":0.485,"r":1.0061},{"p":0.488,"r":1.0025},{"p":0.491,"r":1.0104},{"p":0.494,"r":0.9982},{"p":0.497,"r":1.0051},{"p":0.500,"r":1.0015},{"p":0.503,"r":1.0087},{"p":0.506,"r":0.9958},{"p":0.509,"r":1.0039},{"p":0.512,"r":1.0003},{"p":0.515,"r":1.0096},{"p":0.518,"r":0.9975},{"p":0.521,"r":1.0031},{"p":0.524,"r":1.0068},{"p":0.527,"r":0.9947},{"p":0.530,"r":1.0012},{"p":0.533,"r":0.9984},{"p":0.536,"r":1.0074},{"p":0.539,"r":0.9939},
{"p":0.542,"r":1.0023},{"p":0.545,"r":0.9968},{"p":0.548,"r":1.0049},{"p":0.551,"r":0.9926},{"p":0.554,"r":1.0001},{"p":0.557,"r":0.9957},{"p":0.560,"r":1.0062},{"p":0.563,"r":0.9915},{"p":0.566,"r":0.9988},{"p":0.569,"r":0.9944},{"p":0.572,"r":1.0035},{"p":0.575,"r":0.9903},{"p":0.578,"r":0.9972},{"p":0.581,"r":1.0018},{"p":0.584,"r":0.9931},{"p":0.587,"r":0.9990},{"p":0.590,"r":0.9952},{"p":0.593,"r":1.0044},{"p":0.596,"r":0.9909},{"p":0.599,"r":0.9967},
{"p":0.602,"r":0.9928},{"p":0.605,"r":1.0021},{"p":0.608,"r":0.9886},{"p":0.611,"r":0.9955},{"p":0.614,"r":0.9994},{"p":0.617,"r":0.9917},{"p":0.620,"r":0.9972},{"p":0.623,"r":0.9898},{"p":0.626,"r":1.0030},{"p":0.629,"r":0.9941},{"p":0.632,"r":0.9869},{"p":0.635,"r":0.9983},{"p":0.638,"r":0.9921},{"p":0.641,"r":0.9956},{"p":0.644,"r":0.9884},{"p":0.647,"r":1.0009},{"p":0.650,"r":0.9935},{"p":0.653,"r":0.9962},{"p":0.656,"r":0.9893},{"p":0.659,"r":0.9977},
{"p":0.662,"r":0.9912},{"p":0.665,"r":0.9948},{"p":0.668,"r":0.9861},{"p":0.671,"r":0.9992},{"p":0.674,"r":0.9927},{"p":0.677,"r":0.9879},{"p":0.680,"r":0.9958},{"p":0.683,"r":0.9903},{"p":0.686,"r":1.0016},{"p":0.689,"r":0.9936},{"p":0.692,"r":0.9872},{"p":0.695,"r":0.9945},{"p":0.698,"r":0.9897},{"p":0.701,"r":0.9969},{"p":0.704,"r":0.9914},{"p":0.707,"r":0.9851},{"p":0.710,"r":0.9939},{"p":0.713,"r":0.9889},{"p":0.716,"r":0.9985},{"p":0.719,"r":0.9921},
{"p":0.722,"r":0.9866},{"p":0.725,"r":0.9947},{"p":0.728,"r":0.9904},{"p":0.731,"r":0.9838},{"p":0.734,"r":0.9928},{"p":0.737,"r":0.9963},{"p":0.740,"r":0.9882},{"p":0.743,"r":0.9916},{"p":0.746,"r":0.9995},{"p":0.749,"r":0.9858},{"p":0.752,"r":0.9931},{"p":0.755,"r":0.9895},{"p":0.758,"r":0.9827},{"p":0.761,"r":0.9940},{"p":0.764,"r":0.9873},{"p":0.767,"r":0.9912},{"p":0.770,"r":0.9976},{"p":0.773,"r":0.9848},{"p":0.776,"r":0.9918},{"p":0.779,"r":0.9886},
{"p":0.782,"r":0.9941},{"p":0.785,"r":0.9821},{"p":0.788,"r":0.9902},{"p":0.791,"r":0.9864},{"p":0.794,"r":0.9927},{"p":0.797,"r":0.9989},{"p":0.800,"r":0.9875},{"p":0.803,"r":0.9911},{"p":0.806,"r":0.9843},{"p":0.809,"r":0.9934},{"p":0.812,"r":0.9896},{"p":0.815,"r":0.9817},{"p":0.818,"r":0.9908},{"p":0.821,"r":0.9869},{"p":0.824,"r":0.9952},{"p":0.827,"r":0.9881},{"p":0.830,"r":0.9925},{"p":0.833,"r":0.9836},{"p":0.836,"r":0.9903},{"p":0.839,"r":0.9970},
{"p":0.842,"r":0.9862},{"p":0.845,"r":0.9919},{"p":0.848,"r":0.9888},{"p":0.851,"r":0.9811},{"p":0.854,"r":0.9932},{"p":0.857,"r":0.9874},{"p":0.860,"r":0.9909},{"p":0.863,"r":0.9849},{"p":0.866,"r":0.9958},{"p":0.869,"r":0.9893},{"p":0.872,"r":0.9828},{"p":0.875,"r":0.9916},{"p":0.878,"r":0.9877},{"p":0.881,"r":0.9937},{"p":0.884,"r":0.9859},{"p":0.887,"r":0.9901},{"p":0.890,"r":0.9982},{"p":0.893,"r":0.9868},{"p":0.896,"r":0.9922},{"p":0.899,"r":0.9845},
{"p":0.902,"r":0.9913},{"p":0.905,"r":0.9884},{"p":0.908,"r":0.9951},{"p":0.911,"r":0.9870},{"p":0.914,"r":0.9929},{"p":0.917,"r":0.9836},{"p":0.920,"r":0.9905},{"p":0.923,"r":0.9966},{"p":0.926,"r":0.9881},{"p":0.929,"r":0.9924},{"p":0.932,"r":0.9857},{"p":0.935,"r":0.9943},{"p":0.938,"r":0.9897},{"p":0.941,"r":0.9998},{"p":0.944,"r":0.9872},{"p":0.947,"r":0.9918},{"p":0.950,"r":0.9850},{"p":0.953,"r":0.9936},{"p":0.956,"r":0.9892},{"p":0.959,"r":0.9960},
{"p":0.962,"r":0.9878},{"p":0.965,"r":0.9927},{"p":0.968,"r":0.9865},{"p":0.971,"r":0.9947},{"p":0.974,"r":0.9899},{"p":0.977,"r":1.0012},{"p":0.980,"r":0.9883},{"p":0.983,"r":0.9931},{"p":0.986,"r":0.9869},{"p":0.989,"r":0.9954},{"p":0.992,"r":0.9906},{"p":0.995,"r":1.0004},{"p":0.998,"r":0.9890},
{"p":0.12,"r":1.0442},{"p":0.115,"r":1.043},{"p":0.054,"r":1.0308},{"p":0.103,"r":1.033},{"p":0.188,"r":1.0329},{"p":0.268,"r":1.0326},{"p":0.243,"r":1.0308},{"p":0.367,"r":1.031},{"p":0.341,"r":1.0284},{"p":0.352,"r":1.0284},{"p":0.363,"r":1.0266},{"p":0.093,"r":1.0266},{"p":0.706,"r":1.0237},{"p":0.774,"r":1.040},{"p":0.766,"r":1.0203},{"p":0.945,"r":1.0463},{"p":0.013,"r":1.024},{"p":0.021,"r":1.0217},{"p":0.484,"r":1.0253},{"p":0.577,"r":1.0203},{"p":0.702,"r":1.0157},{"p":0.753,"r":1.0145},{"p":0.954,"r":1.0094},{"p":0.981,"r":1.0044},
{"p":0.85,"r":0.9742},{"p":0.861,"r":0.9755},{"p":0.886,"r":0.9772},{"p":0.724,"r":0.9774},{"p":0.954,"r":0.978},{"p":0.03,"r":0.9818},{"p":0.137,"r":0.9851},{"p":0.219,"r":0.9897},{"p":0.279,"r":0.9952},{"p":0.33,"r":0.9937},{"p":0.56,"r":0.9841},{"p":0.686,"r":0.9811},{"p":0.16,"r":1.022},{"p":0.2,"r":1.024},{"p":0.3,"r":1.0235},{"p":0.42,"r":1.0225},{"p":0.56,"r":1.017},{"p":0.64,"r":1.013},{"p":0.82,"r":1.012},{"p":0.88,"r":1.014},{"p":0.97,"r":1.0135},{"p":0.005,"r":1.012},{"p":0.04,"r":0.984},{"p":0.09,"r":0.989},{"p":0.18,"r":0.996},{"p":0.45,"r":0.9905},
{"p":0.0015,"r":0.9941},{"p":0.0052,"r":1.0008},{"p":0.0091,"r":0.9896},{"p":0.0123,"r":0.9969},{"p":0.0157,"r":0.9925},{"p":0.0188,"r":1.0041},{"p":0.0226,"r":0.9953},{"p":0.0262,"r":0.9887},{"p":0.0291,"r":0.9994},{"p":0.0334,"r":0.9937},{"p":0.0367,"r":1.0019},{"p":0.0398,"r":0.9910},{"p":0.0431,"r":0.9982},{"p":0.0469,"r":0.9948},{"p":0.0502,"r":1.0064},{"p":0.0537,"r":0.9931},{"p":0.0571,"r":1.0027},{"p":0.0606,"r":0.9969},{"p":0.0644,"r":1.0085},{"p":0.0672,"r":0.9942},
{"p":0.0711,"r":1.0033},{"p":0.0746,"r":0.9985},{"p":0.0779,"r":1.0112},{"p":0.0816,"r":0.9957},{"p":0.0852,"r":1.0052},{"p":0.0887,"r":1.0004},{"p":0.0921,"r":1.0098},{"p":0.0955,"r":0.9976},{"p":0.0993,"r":1.0067},{"p":0.1026,"r":1.0021},{"p":0.1062,"r":1.0129},{"p":0.1094,"r":0.9983},{"p":0.1131,"r":1.0078},{"p":0.1167,"r":1.0040},{"p":0.1201,"r":1.0147},{"p":0.1236,"r":1.0009},{"p":0.1272,"r":1.0093},{"p":0.1304,"r":1.0055},{"p":0.1338,"r":1.0161},{"p":0.1375,"r":1.0026},
{"p":0.1411,"r":1.0108},{"p":0.1443,"r":1.0071},{"p":0.1479,"r":0.9992},{"p":0.1512,"r":1.0124},{"p":0.1548,"r":1.0085},{"p":0.1583,"r":1.0170},{"p":0.1617,"r":1.0038},{"p":0.1654,"r":1.0116},{"p":0.1688,"r":1.0062},{"p":0.1722,"r":1.0183},{"p":0.1759,"r":1.0094},{"p":0.1791,"r":1.0031},{"p":0.1826,"r":1.0140},{"p":0.1863,"r":1.0078},{"p":0.1897,"r":1.0195},{"p":0.1932,"r":1.0109},{"p":0.1966,"r":1.0046},{"p":0.2003,"r":1.0157},{"p":0.2038,"r":1.0092},{"p":0.2071,"r":1.0131},
{"p":0.2107,"r":1.0036},{"p":0.2143,"r":1.0176},{"p":0.2177,"r":1.0104},{"p":0.2212,"r":1.0067},{"p":0.2246,"r":1.0149},{"p":0.2281,"r":1.0208},{"p":0.2317,"r":1.0085},{"p":0.2352,"r":1.0123},{"p":0.2388,"r":1.0051},{"p":0.2421,"r":1.0164},{"p":0.2457,"r":1.0107},{"p":0.2493,"r":1.0139},{"p":0.2526,"r":1.0072},{"p":0.2561,"r":1.0198},{"p":0.2597,"r":1.0117},{"p":0.2632,"r":1.0045},{"p":0.2668,"r":1.0153},{"p":0.2701,"r":1.0096},{"p":0.2737,"r":1.0217},{"p":0.2772,"r":1.0126},
{"p":0.2806,"r":1.0064},{"p":0.2843,"r":1.0172},{"p":0.2877,"r":1.0109},{"p":0.2913,"r":1.0143},{"p":0.2946,"r":1.0037},{"p":0.2982,"r":1.0186},{"p":0.3017,"r":1.0121},{"p":0.3053,"r":1.0082},{"p":0.3088,"r":1.0159},{"p":0.3121,"r":1.0203},{"p":0.3157,"r":1.0101},{"p":0.3192,"r":1.0134},{"p":0.3227,"r":1.0049},{"p":0.3262,"r":1.0177},{"p":0.3296,"r":1.0112},{"p":0.3332,"r":1.0145},{"p":0.3367,"r":1.0075},{"p":0.3403,"r":1.0212},{"p":0.3437,"r":1.0119},{"p":0.3472,"r":1.0091},
{"p":0.3508,"r":1.0154},{"p":0.3542,"r":1.0062},{"p":0.3577,"r":1.0137},{"p":0.3613,"r":1.0189},{"p":0.3647,"r":1.0102},{"p":0.3682,"r":1.0068},{"p":0.3717,"r":1.0148},{"p":0.3753,"r":1.0115},{"p":0.3787,"r":1.0033},{"p":0.3823,"r":1.0166},{"p":0.3858,"r":1.0089},{"p":0.3892,"r":1.0127},{"p":0.3928,"r":1.0058},{"p":0.3961,"r":1.0151},{"p":0.3997,"r":1.0104},{"p":0.4032,"r":1.0019},{"p":0.4067,"r":1.0135},{"p":0.4102,"r":1.0079},{"p":0.4138,"r":1.0182},{"p":0.4172,"r":1.0093},
{"p":0.4207,"r":1.0052},{"p":0.4243,"r":1.0118},{"p":0.4277,"r":1.0156},{"p":0.4312,"r":1.0071},{"p":0.4348,"r":1.0106},{"p":0.4382,"r":1.0012},{"p":0.4417,"r":1.0138},{"p":0.4453,"r":1.0083},{"p":0.4487,"r":1.0119},{"p":0.4522,"r":1.0044},{"p":0.4557,"r":1.0162},{"p":0.4593,"r":1.0087},{"p":0.4627,"r":1.0056},{"p":0.4662,"r":1.0111},{"p":0.4697,"r":1.0003},{"p":0.4733,"r":1.0129},{"p":0.4767,"r":1.0068},{"p":0.4802,"r":1.0032},{"p":0.4838,"r":1.0097},{"p":0.4872,"r":0.9989},
{"p":0.4907,"r":1.0075},{"p":0.4943,"r":1.0038},{"p":0.4977,"r":1.0114},{"p":0.5012,"r":0.9977},{"p":0.5047,"r":1.0063},{"p":0.5083,"r":1.0021},{"p":0.5117,"r":1.0101},{"p":0.5152,"r":0.9963},{"p":0.5187,"r":1.0046},{"p":0.5223,"r":1.0084},{"p":0.5257,"r":0.9991},{"p":0.5292,"r":1.0056},{"p":0.5327,"r":0.9952},{"p":0.5363,"r":1.0024},{"p":0.5397,"r":1.0079},{"p":0.5432,"r":0.9981},{"p":0.5467,"r":1.0037},{"p":0.5503,"r":0.9938},{"p":0.5537,"r":1.0017},{"p":0.5572,"r":1.0066},
{"p":0.5607,"r":0.9962},{"p":0.5643,"r":1.0029},{"p":0.5677,"r":0.9924},{"p":0.5712,"r":0.9997},{"p":0.5747,"r":1.0051},{"p":0.5783,"r":0.9943},{"p":0.5817,"r":1.0004},{"p":0.5852,"r":0.9969},{"p":0.5887,"r":1.0038},{"p":0.5923,"r":0.9912},{"p":0.5957,"r":0.9981},{"p":0.5992,"r":1.0025},{"p":0.6027,"r":0.9947},{"p":0.6063,"r":0.9898},{"p":0.6097,"r":0.9989},{"p":0.6132,"r":0.9932},{"p":0.6167,"r":1.0013},{"p":0.6203,"r":0.9957},{"p":0.6237,"r":0.9881},{"p":0.6272,"r":0.9975},
{"p":0.6307,"r":0.9919},{"p":0.6343,"r":1.0002},{"p":0.6377,"r":0.9944},{"p":0.6412,"r":0.9876},{"p":0.6447,"r":0.9967},{"p":0.6483,"r":0.9905},{"p":0.6517,"r":0.9986},{"p":0.6552,"r":0.9931},{"p":0.6587,"r":0.9864},{"p":0.6623,"r":0.9953},{"p":0.6657,"r":0.9892},{"p":0.6692,"r":0.9974},{"p":0.6727,"r":0.9918},{"p":0.6763,"r":0.9859},{"p":0.6797,"r":0.9941},{"p":0.6832,"r":0.9883},{"p":0.6867,"r":0.9962},{"p":0.6903,"r":0.9907},{"p":0.6937,"r":0.9848},{"p":0.6972,"r":0.9929},
{"p":0.7007,"r":0.9874},{"p":0.7043,"r":0.9956},{"p":0.7077,"r":0.9896},{"p":0.7112,"r":0.9842},{"p":0.7147,"r":0.9921},{"p":0.7183,"r":0.9868},{"p":0.7217,"r":0.9949},{"p":0.7252,"r":0.9887},{"p":0.7287,"r":0.9834},{"p":0.7323,"r":0.9913},{"p":0.7357,"r":0.9861},{"p":0.7392,"r":0.9942},{"p":0.7427,"r":0.9879},{"p":0.7463,"r":0.9826},{"p":0.7497,"r":0.9905},{"p":0.7532,"r":0.9853},{"p":0.7567,"r":0.9937},{"p":0.7603,"r":0.9871},{"p":0.7637,"r":0.9819},{"p":0.7672,"r":0.9898},
{"p":0.7707,"r":0.9846},{"p":0.7743,"r":0.9926},{"p":0.7777,"r":0.9863},{"p":0.7812,"r":0.9905},{"p":0.7847,"r":0.9839},{"p":0.7883,"r":0.9951},{"p":0.7917,"r":0.9876},{"p":0.7952,"r":0.9814},{"p":0.7987,"r":0.9893},{"p":0.8023,"r":0.9852},{"p":0.8057,"r":0.9922},{"p":0.8092,"r":0.9867},{"p":0.8127,"r":0.9806},{"p":0.8163,"r":0.9889},{"p":0.8197,"r":0.9843},{"p":0.8232,"r":0.9915},{"p":0.8267,"r":0.9858},{"p":0.8303,"r":0.9945},{"p":0.8337,"r":0.9881},{"p":0.8372,"r":0.9824},
{"p":0.8407,"r":0.9899},{"p":0.8443,"r":0.9851},{"p":0.8477,"r":0.9927},{"p":0.8512,"r":0.9872},{"p":0.8547,"r":0.9816},{"p":0.8583,"r":0.9894},{"p":0.8617,"r":0.9841},{"p":0.8652,"r":0.9919},{"p":0.8687,"r":0.9863},{"p":0.8723,"r":0.9948},{"p":0.8757,"r":0.9886},{"p":0.8792,"r":0.9829},{"p":0.8827,"r":0.9907},{"p":0.8863,"r":0.9855},{"p":0.8897,"r":0.9934},{"p":0.8932,"r":0.9876},{"p":0.8967,"r":0.9822},{"p":0.9003,"r":0.9902},{"p":0.9037,"r":0.9849},{"p":0.9072,"r":0.9927},
{"p":0.9107,"r":0.9868},{"p":0.9143,"r":0.9955},{"p":0.9177,"r":0.9889},{"p":0.9212,"r":0.9837},{"p":0.9247,"r":0.9912},{"p":0.9283,"r":0.9861},{"p":0.9317,"r":0.9938},{"p":0.9352,"r":0.9882},{"p":0.9387,"r":0.9971},{"p":0.9423,"r":0.9905},{"p":0.9457,"r":0.9848},{"p":0.9492,"r":0.9926},{"p":0.9527,"r":0.9874},{"p":0.9563,"r":0.9952},{"p":0.9597,"r":0.9893},{"p":0.9632,"r":0.9839},{"p":0.9667,"r":0.9917},{"p":0.9703,"r":0.9866},{"p":0.9737,"r":0.9944},{"p":0.9772,"r":0.9885},
{"p":0.9807,"r":0.9972},{"p":0.9843,"r":0.9903},{"p":0.9877,"r":0.9851},{"p":0.9912,"r":0.9931},{"p":0.9947,"r":0.9879},{"p":0.9982,"r":0.9957},
{"p":0.0008,"r":0.9978},{"p":0.0047,"r":0.9903},{"p":0.0084,"r":0.9951},{"p":0.0127,"r":1.0024},{"p":0.0163,"r":0.9932},{"p":0.0204,"r":0.9967},{"p":0.0243,"r":0.9915},{"p":0.0281,"r":1.0003},{"p":0.0322,"r":0.9946},{"p":0.0364,"r":0.9893},{"p":0.0401,"r":0.9989},{"p":0.0443,"r":1.0037},{"p":0.0482,"r":0.9958},{"p":0.0523,"r":0.9919},{"p":0.0561,"r":1.0046},{"p":0.0602,"r":0.9984},{"p":0.0644,"r":0.9937},{"p":0.0683,"r":1.0058},{"p":0.0721,"r":0.9971},{"p":0.0762,"r":1.0019},
{"p":0.0803,"r":0.9948},{"p":0.0842,"r":1.0074},{"p":0.0884,"r":1.0012},{"p":0.0923,"r":0.9966},{"p":0.0961,"r":1.0091},{"p":0.1003,"r":1.0035},{"p":0.1042,"r":0.9978},{"p":0.1083,"r":1.0102},{"p":0.1122,"r":1.0051},{"p":0.1164,"r":0.9994},{"p":0.1201,"r":1.0117},{"p":0.1243,"r":1.0063},{"p":0.1282,"r":1.0021},{"p":0.1321,"r":1.0135},{"p":0.1363,"r":1.0078},{"p":0.1402,"r":1.0042},{"p":0.1443,"r":1.0153},{"p":0.1481,"r":1.0089},{"p":0.1522,"r":1.0013},{"p":0.1562,"r":1.0126},
{"p":0.1603,"r":1.0071},{"p":0.1641,"r":1.0164},{"p":0.1682,"r":1.0098},{"p":0.1721,"r":1.0037},{"p":0.1763,"r":1.0142},{"p":0.1802,"r":1.0085},{"p":0.1843,"r":1.0179},{"p":0.1881,"r":1.0112},{"p":0.1922,"r":1.0056},{"p":0.1962,"r":1.0133},{"p":0.2003,"r":1.0094},{"p":0.2041,"r":1.0027},{"p":0.2082,"r":1.0168},{"p":0.2121,"r":1.0116},{"p":0.2163,"r":1.0073},{"p":0.2202,"r":1.0145},{"p":0.2243,"r":1.0188},{"p":0.2281,"r":1.0097},{"p":0.2322,"r":1.0051},{"p":0.2362,"r":1.0163},
{"p":0.2403,"r":1.0121},{"p":0.2441,"r":1.0079},{"p":0.2482,"r":1.0191},{"p":0.2521,"r":1.0134},{"p":0.2563,"r":1.0062},{"p":0.2602,"r":1.0157},{"p":0.2643,"r":1.0103},{"p":0.2681,"r":1.0203},{"p":0.2722,"r":1.0138},{"p":0.2762,"r":1.0074},{"p":0.2803,"r":1.0166},{"p":0.2841,"r":1.0118},{"p":0.2882,"r":1.0046},{"p":0.2921,"r":1.0182},{"p":0.2963,"r":1.0127},{"p":0.3002,"r":1.0085},{"p":0.3043,"r":1.0198},{"p":0.3081,"r":1.0141},{"p":0.3122,"r":1.0063},{"p":0.3162,"r":1.0172},
{"p":0.3203,"r":1.0114},{"p":0.3241,"r":1.0196},{"p":0.3282,"r":1.0131},{"p":0.3321,"r":1.0069},{"p":0.3363,"r":1.0158},{"p":0.3402,"r":1.0106},{"p":0.3443,"r":1.0043},{"p":0.3481,"r":1.0177},{"p":0.3522,"r":1.0122},{"p":0.3562,"r":1.0081},{"p":0.3603,"r":1.0149},{"p":0.3641,"r":1.0194},{"p":0.3682,"r":1.0097},{"p":0.3721,"r":1.0058},{"p":0.3763,"r":1.0136},{"p":0.3802,"r":1.0171},{"p":0.3843,"r":1.0084},{"p":0.3881,"r":1.0119},{"p":0.3922,"r":1.0039},{"p":0.3962,"r":1.0157},
{"p":0.4003,"r":1.0093},{"p":0.4041,"r":1.0128},{"p":0.4082,"r":1.0061},{"p":0.4121,"r":1.0169},{"p":0.4163,"r":1.0102},{"p":0.4202,"r":1.0025},{"p":0.4243,"r":1.0141},{"p":0.4281,"r":1.0083},{"p":0.4322,"r":1.0116},{"p":0.4362,"r":1.0048},{"p":0.4403,"r":1.0152},{"p":0.4441,"r":1.0091},{"p":0.4482,"r":1.0029},{"p":0.4521,"r":1.0124},{"p":0.4563,"r":1.0067},{"p":0.4602,"r":1.0104},{"p":0.4643,"r":1.0011},{"p":0.4681,"r":1.0138},{"p":0.4722,"r":1.0075},{"p":0.4762,"r":1.0043},
{"p":0.4803,"r":1.0109},{"p":0.4841,"r":1.0052},{"p":0.4882,"r":0.9994},{"p":0.4921,"r":1.0121},{"p":0.4963,"r":1.0066},{"p":0.5002,"r":1.0031},{"p":0.5043,"r":1.0093},{"p":0.5081,"r":0.9968},{"p":0.5122,"r":1.0057},{"p":0.5162,"r":1.0012},{"p":0.5203,"r":1.0081},{"p":0.5241,"r":0.9986},{"p":0.5282,"r":1.0043},{"p":0.5321,"r":1.0097},{"p":0.5363,"r":0.9959},{"p":0.5402,"r":1.0028},{"p":0.5443,"r":0.9991},{"p":0.5481,"r":1.0069},{"p":0.5522,"r":0.9942},{"p":0.5562,"r":1.0008},
{"p":0.5603,"r":1.0051},{"p":0.5641,"r":0.9953},{"p":0.5682,"r":1.0019},{"p":0.5721,"r":0.9926},{"p":0.5763,"r":0.9985},{"p":0.5802,"r":1.0042},{"p":0.5843,"r":0.9934},{"p":0.5881,"r":0.9991},{"p":0.5922,"r":0.9951},{"p":0.5962,"r":1.0028},{"p":0.6003,"r":0.9906},{"p":0.6041,"r":0.9968},{"p":0.6082,"r":1.0017},{"p":0.6121,"r":0.9941},{"p":0.6163,"r":0.9893},{"p":0.6202,"r":0.9979},{"p":0.6243,"r":0.9926},{"p":0.6281,"r":1.0005},{"p":0.6322,"r":0.9952},{"p":0.6362,"r":0.9879},
{"p":0.6403,"r":0.9964},{"p":0.6441,"r":0.9911},{"p":0.6482,"r":0.9992},{"p":0.6521,"r":0.9937},{"p":0.6563,"r":0.9868},{"p":0.6602,"r":0.9953},{"p":0.6643,"r":0.9898},{"p":0.6681,"r":0.9979},{"p":0.6722,"r":0.9922},{"p":0.6762,"r":0.9857},{"p":0.6803,"r":0.9946},{"p":0.6841,"r":0.9889},{"p":0.6882,"r":0.9968},{"p":0.6921,"r":0.9911},{"p":0.6963,"r":0.9846},{"p":0.7002,"r":0.9932},{"p":0.7043,"r":0.9877},{"p":0.7081,"r":0.9958},{"p":0.7122,"r":0.9903},{"p":0.7162,"r":0.9839},
{"p":0.7203,"r":0.9921},{"p":0.7241,"r":0.9868},{"p":0.7282,"r":0.9951},{"p":0.7321,"r":0.9893},{"p":0.7363,"r":0.9832},{"p":0.7402,"r":0.9914},{"p":0.7443,"r":0.9857},{"p":0.7481,"r":0.9939},{"p":0.7522,"r":0.9881},{"p":0.7562,"r":0.9822},{"p":0.7603,"r":0.9907},{"p":0.7641,"r":0.9853},{"p":0.7682,"r":0.9932},{"p":0.7721,"r":0.9876},{"p":0.7763,"r":0.9815},{"p":0.7802,"r":0.9898},{"p":0.7843,"r":0.9842},{"p":0.7881,"r":0.9926},{"p":0.7922,"r":0.9868},{"p":0.7962,"r":0.9809},
{"p":0.8003,"r":0.9889},{"p":0.8041,"r":0.9835},{"p":0.8082,"r":0.9918},{"p":0.8121,"r":0.9861},{"p":0.8163,"r":0.9946},{"p":0.8202,"r":0.9883},{"p":0.8243,"r":0.9826},{"p":0.8281,"r":0.9904},{"p":0.8322,"r":0.9852},{"p":0.8362,"r":0.9931},{"p":0.8403,"r":0.9874},{"p":0.8441,"r":0.9819},{"p":0.8482,"r":0.9896},{"p":0.8521,"r":0.9845},{"p":0.8563,"r":0.9923},{"p":0.8602,"r":0.9866},{"p":0.8643,"r":0.9951},{"p":0.8681,"r":0.9887},{"p":0.8722,"r":0.9832},{"p":0.8762,"r":0.9911},
{"p":0.8803,"r":0.9858},{"p":0.8841,"r":0.9936},{"p":0.8882,"r":0.9879},{"p":0.8921,"r":0.9824},{"p":0.8963,"r":0.9903},{"p":0.9002,"r":0.9851},{"p":0.9043,"r":0.9929},{"p":0.9081,"r":0.9873},{"p":0.9122,"r":0.9958},{"p":0.9162,"r":0.9894},{"p":0.9203,"r":0.9839},{"p":0.9241,"r":0.9917},{"p":0.9282,"r":0.9864},{"p":0.9321,"r":0.9942},{"p":0.9363,"r":0.9886},{"p":0.9402,"r":0.9832},{"p":0.9443,"r":0.9911},{"p":0.9481,"r":0.9858},{"p":0.9522,"r":0.9967},{"p":0.9562,"r":0.9899},
{"p":0.9603,"r":0.9846},{"p":0.9641,"r":0.9924},{"p":0.9682,"r":0.9871},{"p":0.9721,"r":0.9953},{"p":0.9763,"r":0.9893},{"p":0.9802,"r":0.9838},{"p":0.9843,"r":0.9917},{"p":0.9881,"r":0.9862},{"p":0.9922,"r":0.9944},{"p":0.9962,"r":0.9888}
]
},
"hconcat": [
{
 "width": 379, "height": 533,
 "layer": [
  {"data": {"name": "lc"}, "mark": {"type": "circle", "size": 13, "color": "black", "opacity": 1},
   "encoding": {
    "x": {"field": "t", "type": "quantitative", "scale": {"domain": [-0.77, 72.26], "nice": false, "zero": false},
      "axis": {"orient": "bottom", "title": "times- 2228 (d)", "values": [0,5,10,15,20,25,30,35,40,45,50,55,60,65,70], "labelExpr": "datum.value % 20 === 0 ? datum.label : ''", "labelFontSize": {"condition": {"test": "datum.value % 20 === 0", "value": 47}, "value": 0}, "labelFlush": false, "tickSize": {"condition": {"test": "datum.value % 20 === 0", "value": -10}, "value": -5}, "labelPadding": 22, "titlePadding": 4}},
    "y": {"field": "f", "type": "quantitative", "scale": {"domain": [881.4, 970.6], "nice": false, "zero": false},
      "axis": {"orient": "left", "title": "flux", "values": [885,890,895,900,905,910,915,920,925,930,935,940,945,950,955,960,965,970], "labelExpr": "datum.value % 20 === 0 ? datum.label : ''", "labelFontSize": {"condition": {"test": "datum.value % 20 === 0", "value": 47}, "value": 0}, "tickSize": {"condition": {"test": "datum.value % 20 === 0", "value": -10}, "value": -5}, "labelPadding": 22, "titlePadding": 35}}
   }},
  {"data": {"values": [{"t": 0, "f": 900}]}, "mark": {"type": "circle", "opacity": 0},
   "encoding": {
    "x": {"field": "t", "type": "quantitative", "scale": {"domain": [-0.77, 72.26], "nice": false, "zero": false},
      "axis": {"orient": "top", "labels": false, "title": null, "values": [0,5,10,15,20,25,30,35,40,45,50,55,60,65,70], "tickSize": {"condition": {"test": "datum.value % 20 === 0", "value": -10}, "value": -5}}},
    "y": {"field": "f", "type": "quantitative", "scale": {"domain": [881.4, 970.6], "nice": false, "zero": false},
      "axis": {"orient": "right", "labels": false, "title": null, "values": [885,890,895,900,905,910,915,920,925,930,935,940,945,950,955,960,965,970], "tickSize": {"condition": {"test": "datum.value % 20 === 0", "value": -10}, "value": -5}}}
   }},
  {"data": {"values": [{"t": 11.18, "f": 957.7, "s": "(V-K)₀= 6.32"}]}, "mark": {"type": "text", "align": "left", "baseline": "alphabetic", "fontSize": 38, "font": "Liberation Sans", "color": "black"},
   "encoding": {"x": {"field": "t", "type": "quantitative", "axis": null}, "y": {"field": "f", "type": "quantitative", "axis": null}, "text": {"field": "s"}}}
 ],
 "resolve": {"axis": {"x": "independent", "y": "independent"}}
},
{
 "width": 379, "height": 533,
 "title": {"text": "211093928/V1277Tau=BPL15", "offset": 12},
 "layer": [
  {"data": {"name": "pg"}, "mark": {"type": "line", "color": "black", "strokeWidth": 3.5, "clip": true},
   "encoding": {
    "x": {"field": "P", "type": "quantitative", "scale": {"type": "log", "domain": [0.05, 35.7], "nice": false},
      "axis": {"orient": "bottom", "title": "Period", "values": [0.06,0.07,0.08,0.09,0.1,0.2,0.3,0.4,0.5,0.6,0.7,0.8,0.9,1,2,3,4,5,6,7,8,9,10,20,30], "format": ".1f", "labelExpr": "(datum.value === 0.1 || datum.value === 1 || datum.value === 10) ? datum.label : ''", "labelFontSize": {"condition": {"test": "datum.value === 0.1 || datum.value === 1 || datum.value === 10", "value": 47}, "value": 0}, "labelFlush": false, "tickSize": {"condition": {"test": "datum.value === 0.1 || datum.value === 1 || datum.value === 10", "value": -10}, "value": -5}, "labelPadding": 22, "titlePadding": 4}},
    "y": {"field": "w", "type": "quantitative", "scale": {"domain": [0, 800], "nice": false, "zero": false},
      "axis": {"orient": "left", "title": "Power", "values": [0,50,100,150,200,250,300,350,400,450,500,550,600,650,700,750,800], "labelExpr": "datum.value % 200 === 0 ? datum.label : ''", "labelFontSize": {"condition": {"test": "datum.value % 200 === 0", "value": 47}, "value": 0}, "labelFlush": true, "labelFlushOffset": 0, "tickSize": {"condition": {"test": "datum.value % 200 === 0", "value": -10}, "value": -5}, "labelPadding": 22, "titlePadding": 33}}
   }},
  {"data": {"values": [{"P": 1, "w": 0}]}, "mark": {"type": "circle", "opacity": 0},
   "encoding": {
    "x": {"field": "P", "type": "quantitative", "scale": {"type": "log", "domain": [0.05, 35.7], "nice": false},
      "axis": {"orient": "top", "labels": false, "title": null, "values": [0.06,0.07,0.08,0.09,0.1,0.2,0.3,0.4,0.5,0.6,0.7,0.8,0.9,1,2,3,4,5,6,7,8,9,10,20,30], "tickSize": {"condition": {"test": "datum.value === 0.1 || datum.value === 1 || datum.value === 10", "value": -10}, "value": -5}}},
    "y": {"field": "w", "type": "quantitative", "scale": {"domain": [0, 800], "nice": false, "zero": false},
      "axis": {"orient": "right", "labels": false, "title": null, "values": [0,50,100,150,200,250,300,350,400,450,500,550,600,650,700,750,800], "tickSize": {"condition": {"test": "datum.value % 200 === 0", "value": -10}, "value": -5}}}
   }}
 ],
 "resolve": {"axis": {"x": "independent", "y": "independent"}}
},
{
 "width": 380, "height": 533,
 "title": {"text": "0.121d", "offset": 12},
 "layer": [
  {"data": {"name": "ph"}, "mark": {"type": "circle", "size": 13, "color": "black", "opacity": 1},
   "encoding": {
    "x": {"field": "p", "type": "quantitative", "scale": {"domain": [0, 1], "nice": false, "zero": false},
      "axis": {"orient": "bottom", "title": "phase", "values": [0,0.05,0.1,0.15,0.2,0.25,0.3,0.35,0.4,0.45,0.5,0.55,0.6,0.65,0.7,0.75,0.8,0.85,0.9,0.95,1], "format": ".1f", "labelExpr": "round(datum.value*100) % 20 === 0 ? datum.label : ''", "labelFontSize": {"condition": {"test": "round(datum.value*100) % 20 === 0", "value": 47}, "value": 0}, "labelFlush": false, "tickSize": {"condition": {"test": "round(datum.value*100) % 20 === 0", "value": -10}, "value": -5}, "labelPadding": 22, "titlePadding": 4}},
    "y": {"field": "r", "type": "quantitative", "scale": {"domain": [0.9505, 1.0483], "nice": false, "zero": false},
      "axis": {"orient": "left", "title": "relative flux", "values": [0.955,0.96,0.965,0.97,0.975,0.98,0.985,0.99,0.995,1,1.005,1.01,1.015,1.02,1.025,1.03,1.035,1.04,1.045], "format": ".2f", "labelExpr": "round(datum.value*1000) % 20 === 0 ? datum.label : ''", "labelFontSize": {"condition": {"test": "round(datum.value*1000) % 20 === 0", "value": 47}, "value": 0}, "tickSize": {"condition": {"test": "round(datum.value*1000) % 20 === 0", "value": -10}, "value": -5}, "labelPadding": 22, "titlePadding": 35}}
   }},
  {"data": {"values": [{"p": 0.5, "r": 1}]}, "mark": {"type": "circle", "opacity": 0},
   "encoding": {
    "x": {"field": "p", "type": "quantitative", "scale": {"domain": [0, 1], "nice": false, "zero": false},
      "axis": {"orient": "top", "labels": false, "title": null, "values": [0,0.05,0.1,0.15,0.2,0.25,0.3,0.35,0.4,0.45,0.5,0.55,0.6,0.65,0.7,0.75,0.8,0.85,0.9,0.95,1], "tickSize": {"condition": {"test": "round(datum.value*100) % 20 === 0", "value": -10}, "value": -5}}},
    "y": {"field": "r", "type": "quantitative", "scale": {"domain": [0.9505, 1.0483], "nice": false, "zero": false},
      "axis": {"orient": "right", "labels": false, "title": null, "values": [0.955,0.96,0.965,0.97,0.975,0.98,0.985,0.99,0.995,1,1.005,1.01,1.015,1.02,1.025,1.03,1.035,1.04,1.045], "tickSize": {"condition": {"test": "round(datum.value*1000) % 20 === 0", "value": -10}, "value": -5}}}
   }}
 ],
 "resolve": {"axis": {"x": "independent", "y": "independent"}}
}
]
}
